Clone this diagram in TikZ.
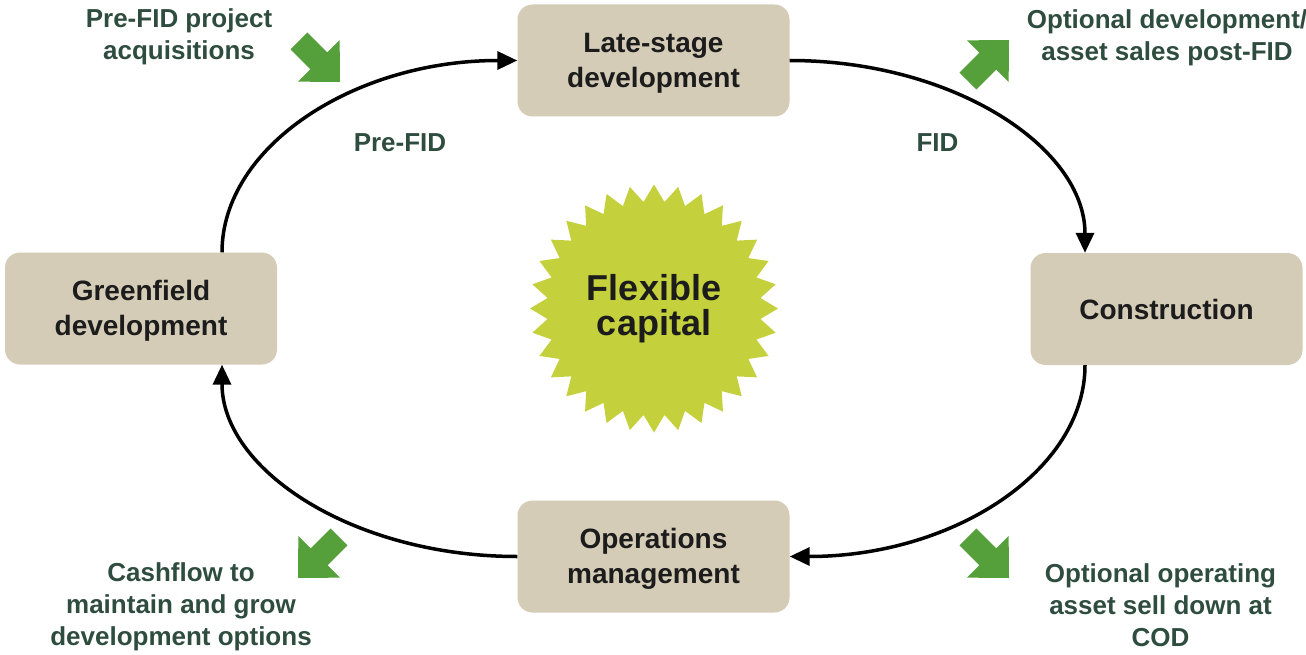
\documentclass[tikz,border=0pt]{standalone}
\usepackage{fontspec}
\setmainfont{Liberation Sans}
\usetikzlibrary{arrows.meta}

\definecolor{boxfill}{RGB}{212,204,182}
\definecolor{boxtext}{RGB}{28,28,28}
\definecolor{labelgreen}{RGB}{47,77,62}
\definecolor{arrowgreen}{RGB}{85,160,58}
\definecolor{burst}{RGB}{196,209,60}

% extra room above the first line of a two-line stage label
\newcommand{\stagestrut}{\rule{0pt}{25pt}}

\tikzset{
  greenarrow/.pic={
    \fill[arrowgreen] (-58,-12) -- (-30,-12) -- (-30,-29.5) -- (0,0)
      -- (-30,29.5) -- (-30,12) -- (-58,12) -- cycle;
  }
}

\begin{document}
\begin{tikzpicture}[x=1pt,y=-1pt,
  stage/.style={fill=boxfill, rounded corners=15pt, minimum width=272pt,
    minimum height=112pt, align=center, text=boxtext, inner sep=0pt,
    font=\fontsize{28}{35}\selectfont\bfseries},
  note/.style={align=center, text=labelgreen, inner sep=0pt,
    font=\fontsize{26}{32}\selectfont\bfseries},
  loopline/.style={line width=3.5pt, -{Triangle[length=20pt,width=18pt]}},
]
\useasboundingbox (0,0) rectangle (1306,655);

% starburst in the middle
\begin{scope}[shift={(654,308.5)}]
  \fill[burst] (90:124) \foreach \k in {0,...,31}{
      -- ({90+\k*11.25+5.625}:107) -- ({90+(\k+1)*11.25}:124)} -- cycle;
\end{scope}
\node[align=center, text=boxtext, inner sep=0pt,
      font=\fontsize{36}{35}\selectfont\bfseries] (core) at (654,308.5) {Flexible\\capital};

% the four stages
\node[stage] (late)  at (653.5,60.5) {\stagestrut Late-stage\\development};
\node[stage] (cons)  at (1166.5,309) {Construction};
\node[stage] (green) at (141,308.5)  {\stagestrut Greenfield\\development};
\node[stage] (ops)   at (653.5,556.5) {\stagestrut Operations\\management};

% the cycle
\draw[loopline] ([xshift=81pt]green.north) .. controls +(0,-105.5) and +(-163.5,0) .. (late.west);
\draw[loopline] (late.east) .. controls +(163.5,0) and +(0,-105.5) .. ([xshift=-81.5pt]cons.north);
\draw[loopline] ([xshift=-81.5pt]cons.south) .. controls +(0,105.5) and +(163.5,0) .. (ops.east);
\draw[loopline] (ops.west) .. controls +(-163.5,0) and +(0,105.5) .. ([xshift=81pt]green.south);

% phase labels
\node[note] (prefid) at (400,143)   {Pre-FID};
\node[note] (fid)    at (937.5,143) {FID};

% capital flows in and out
\node[note] (acq)   at (179,36.5)   {Pre-FID project\\acquisitions};
\node[note] (sales) at (1167,37.5)  {Optional development/\\asset sales post-FID};
\node[note] (cash)  at (181,607)    {Cashflow to\\maintain and grow\\development options};
\node[note] (sell)  at (1160.5,605) {Optional operating\\asset sell down at\\COD};

\pic[rotate=-45]  at (340,82)   {greenarrow};
\pic[rotate=45]   at (1009,40)  {greenarrow};
\pic[rotate=-45]  at (1009,578) {greenarrow};
\pic[rotate=-135] at (298,578)  {greenarrow};
\end{tikzpicture}
\end{document}
